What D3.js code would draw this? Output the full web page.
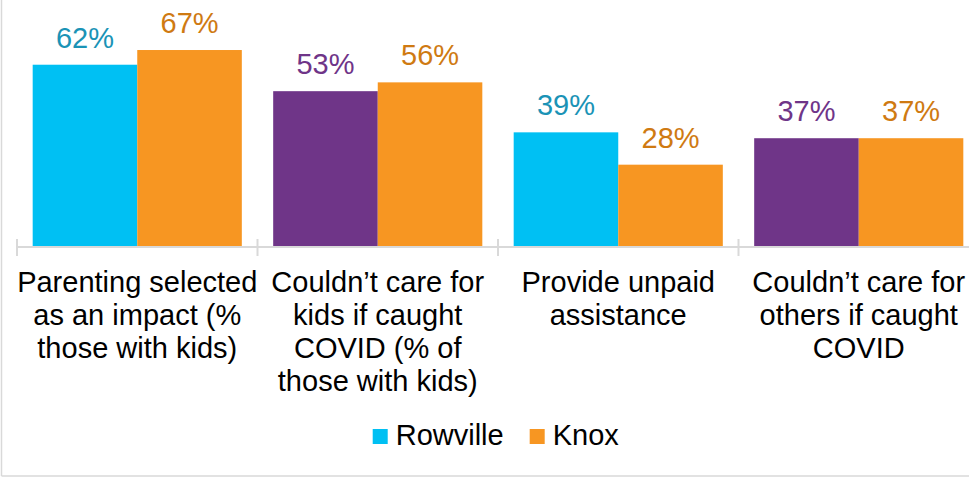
<!DOCTYPE html>
<html>
<head>
<meta charset="utf-8">
<script src="https://cdn.jsdelivr.net/npm/d3@7"></script>
<style>
  html, body { margin: 0; padding: 0; background: #fff; }
  svg { display: block; font-family: Arial, "Liberation Sans", sans-serif; }
</style>
</head>
<body>
<svg id="chart" width="969" height="478"></svg>
<script>
// ---- data ----
const categories = [
  "Parenting selected\nas an impact (%\nthose with kids)",
  "Couldn\u2019t care for\nkids if caught\nCOVID (% of\nthose with kids)",
  "Provide unpaid\nassistance",
  "Couldn\u2019t care for\nothers if caught\nCOVID"
];
const seriesNames = ["Rowville", "Knox"];
const rowvilleValues = [62, 53, 39, 37];
const knoxValues = [67, 56, 28, 37];

// ---- styles ----
const rowvilleBarColors = ["#00C0F3", "#6F3588", "#00C0F3", "#6F3588"];
const rowvilleLabelColors = ["#1A93B6", "#6F3588", "#1A93B6", "#6F3588"];
const knoxBarColor = "#F79622";
const knoxLabelColor = "#CF7A12";
const gridColor = "#D9D9D9";

const svg = d3.select("#chart");

// frame (left & bottom edges visible)
svg.append("line").attr("x1", 1.5).attr("x2", 1.5).attr("y1", 0).attr("y2", 476)
  .attr("stroke", gridColor).attr("stroke-width", 1.5);
svg.append("line").attr("x1", 1.5).attr("x2", 969).attr("y1", 476).attr("y2", 476)
  .attr("stroke", gridColor).attr("stroke-width", 1.5);

const baseY = 247;
const y = d3.scaleLinear().domain([0, 70]).range([baseY, baseY - 70 * 2.94]);
const x0 = d3.scaleBand().domain(categories).range([17, 979]).paddingInner(0).paddingOuter(0);
const x1 = d3.scaleBand().domain(seriesNames).range([0, x0.bandwidth()]).paddingInner(0).paddingOuter(0.15);

const rows = categories.map((c, i) => ({
  cat: c, i,
  vals: [
    { s: "Rowville", v: rowvilleValues[i], fill: rowvilleBarColors[i], lab: rowvilleLabelColors[i] },
    { s: "Knox", v: knoxValues[i], fill: knoxBarColor, lab: knoxLabelColor }
  ]
}));

const g = svg.selectAll("g.grp").data(rows).join("g")
  .attr("class", "grp")
  .attr("transform", d => `translate(${x0(d.cat)},0)`);

g.selectAll("rect").data(d => d.vals).join("rect")
  .attr("x", d => x1(d.s))
  .attr("width", x1.bandwidth())
  .attr("y", d => y(d.v))
  .attr("height", d => y(0) - y(d.v))
  .attr("fill", d => d.fill);

g.selectAll("text.val").data(d => d.vals).join("text")
  .attr("class", "val")
  .attr("x", d => x1(d.s) + x1.bandwidth() / 2)
  .attr("y", d => y(d.v) - 17)
  .attr("text-anchor", "middle")
  .attr("font-size", 29)
  .attr("fill", d => d.lab)
  .text(d => d.v + "%");

// axis
const axisG = svg.append("g").attr("transform", `translate(0,${baseY})`);
axisG.append("line").attr("x1", 17).attr("x2", 979).attr("y1", 0).attr("y2", 0)
  .attr("stroke", gridColor).attr("stroke-width", 2);
const tickXs = categories.map(c => x0(c)).concat([x0.range()[1]]);
axisG.selectAll("line.tick").data(tickXs).join("line")
  .attr("class", "tick")
  .attr("x1", d => d).attr("x2", d => d)
  .attr("y1", -8).attr("y2", 9)
  .attr("stroke", gridColor).attr("stroke-width", 2);

// category labels
const labG = svg.selectAll("text.cat").data(categories).join("text")
  .attr("class", "cat")
  .attr("text-anchor", "middle")
  .attr("font-size", 29)
  .attr("fill", "#000");
labG.each(function(c) {
  const t = d3.select(this);
  const cx = x0(c) + x0.bandwidth() / 2;
  c.split("\n").forEach((line, k) => {
    t.append("tspan").attr("x", cx).attr("y", 292 + k * 33).text(line);
  });
});

// legend
const legend = svg.append("g");
const legendItems = [
  { name: seriesNames[0], color: rowvilleBarColors[0] },
  { name: seriesNames[1], color: knoxBarColor }
];
let lx = 0;
const items = legend.selectAll("g").data(legendItems).join("g");
items.append("rect").attr("width", 15).attr("height", 15).attr("y", -16).attr("fill", d => d.color);
items.append("text").attr("x", 23).attr("y", 0).attr("font-size", 29).attr("fill", "#000").text(d => d.name);
items.each(function() {
  d3.select(this).attr("transform", `translate(${lx},445)`);
  lx += this.getBBox().width + 26;
});
const totalW = lx - 26;
legend.attr("transform", `translate(${496 - totalW / 2},0)`);
</script>
</body>
</html>
